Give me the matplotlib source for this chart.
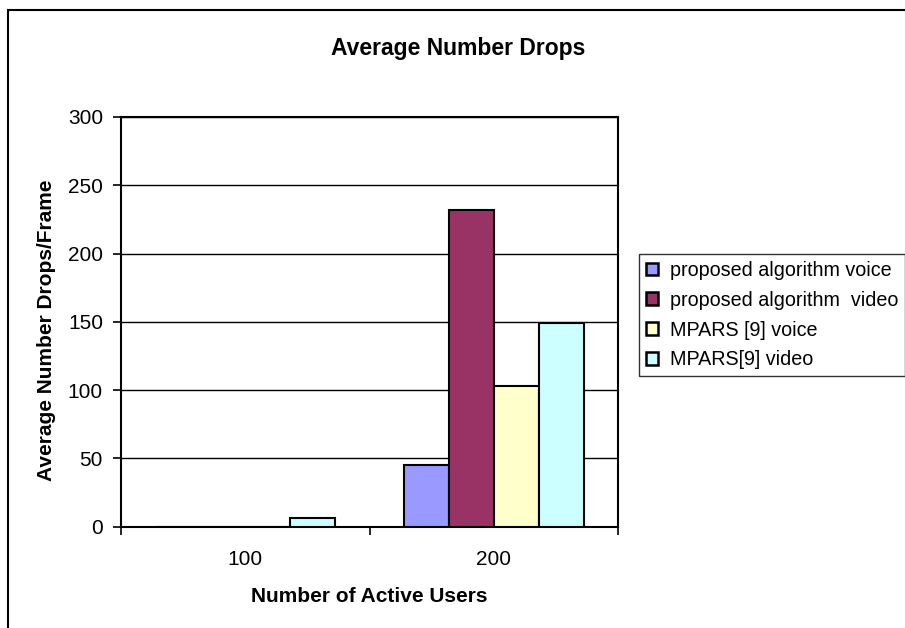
import matplotlib
matplotlib.use("Agg")
import matplotlib.pyplot as plt
import numpy as np
from matplotlib.patches import Rectangle

categories = ["100", "200"]
series_names = ["proposed algorithm voice", "proposed algorithm  video",
                "MPARS [9] voice", "MPARS[9] video"]
prop_voice = [0, 45]
prop_video = [0, 232]
mpars_voice = [0, 103]
mpars_video = [6, 149]
yticks = [0, 50, 100, 150, 200, 250, 300]

colors = ["#9999FF", "#993366", "#FFFFCC", "#CCFFFF"]

plt.rcParams['font.family'] = ['Liberation Sans', 'DejaVu Sans']

W, H = 905, 628
fig = plt.figure(figsize=(W / 100, H / 100), dpi=100)
ax = fig.add_axes([121 / W, 1 - 526.5 / H, (618 - 121) / W, (526.5 - 117) / H])

x = np.arange(len(categories))
bw = 0.181
data = [prop_voice, prop_video, mpars_voice, mpars_video]
for i, (vals, c, name) in enumerate(zip(data, colors, series_names)):
    ax.bar(x + (i - 1.5) * bw, vals, width=bw, color=c, edgecolor="black",
           linewidth=1.5, label=name, zorder=3)

ax.set_xlim(-0.5, 1.5)
ax.set_ylim(0, 300)
ax.set_yticks(yticks)
ax.set_yticklabels([str(t) for t in yticks], fontsize=15)
ax.yaxis.grid(True, color="black", linewidth=1.0, zorder=0)
ax.set_axisbelow(True)

ax.set_xticks(x)
ax.set_xticklabels(categories, fontsize=15)
ax.tick_params(axis="x", length=0, pad=17)
ax.set_xticks([-0.5, 0.5, 1.5], minor=True)
ax.tick_params(axis="x", which="minor", length=6, width=1.2, direction="out")
ax.tick_params(axis="y", length=6, width=1.2, direction="out", pad=7)

for s in ax.spines.values():
    s.set_linewidth(1.5)
    s.set_color("black")

ax.set_xlabel("Number of Active Users", fontsize=15, fontweight="bold", labelpad=13)
ax.set_ylabel("Average Number Drops/Frame", fontsize=15, fontweight="bold")
ax.yaxis.set_label_coords(-(121 - 46) / (618 - 121), (526.5 - 330) / (526.5 - 117))
ax.yaxis.label.set_va("center")

fig.text(458 / W, 1 - 48 / H, "Average Number Drops", fontsize=16.5,
         fontweight="bold", ha="center", va="center")

leg = fig.legend(loc="upper left", bbox_to_anchor=(639 / W, 1 - 254 / H),
                 fontsize=14.2, frameon=True, fancybox=False, edgecolor="black",
                 handlelength=0.62, handleheight=0.62, handletextpad=0.6,
                 labelspacing=0.55, borderpad=0.35, borderaxespad=0)
leg.get_frame().set_linewidth(1.0)
for h in leg.legend_handles:
    h.set_linewidth(1.8)

border = Rectangle((8 / W, -0.1), 1.2, 1 - 10 / H + 0.1, transform=fig.transFigure,
                   fill=False, edgecolor="black", linewidth=1.5, clip_on=False)
fig.patches.append(border)

fig.savefig("out.png", dpi=100)
